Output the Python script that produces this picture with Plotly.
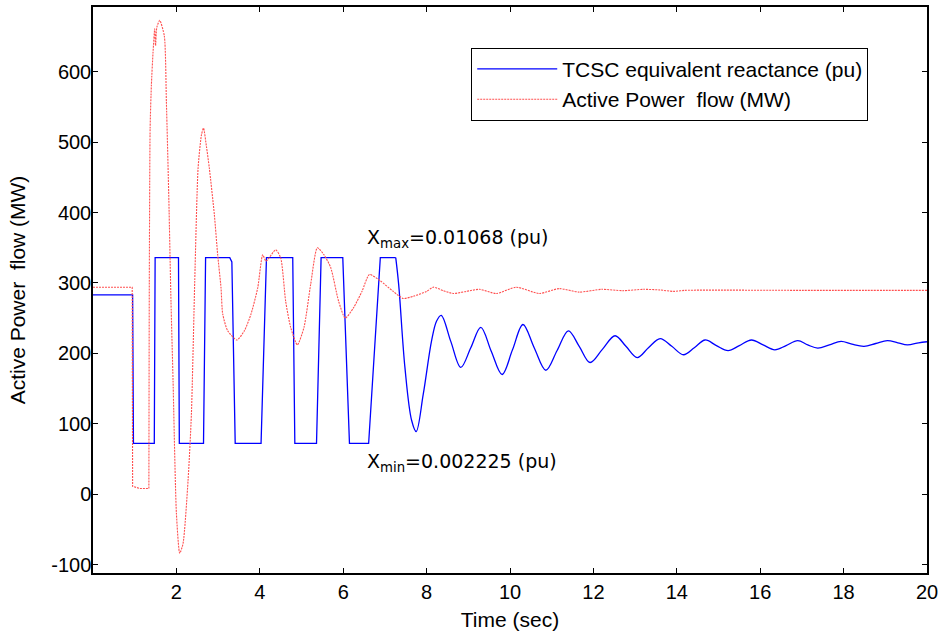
import plotly.graph_objects as go

# ---- data ----
# TCSC equivalent reactance (scaled to MW axis) - switching part
t_x_sw = [0, 0.95, 0.97, 1.47, 1.49, 2.05, 2.07, 2.65, 2.70, 3.28, 3.33, 3.41,
          4.03, 4.16, 4.79, 4.84, 5.36, 5.47, 5.99, 6.15, 6.61, 6.89, 7.26]
x_sw = [283, 283, 72, 72, 336, 336, 72, 72, 336, 336, 330, 72,
        72, 336, 336, 72, 72, 336, 336, 72, 72, 336, 336]
# TCSC equivalent reactance - damped oscillation part
t_x_osc = [7.26, 7.33, 7.48, 7.64, 7.75, 7.92, 8.12, 8.24, 8.35, 8.58, 8.82, 9.06, 9.30,
           9.55, 9.81, 10.06, 10.31, 10.58, 10.86, 11.13, 11.40, 11.66, 11.92,
           12.22, 12.52, 12.78, 13.05, 13.32, 13.60, 13.88, 14.16, 14.42, 14.68,
           14.95, 15.23, 15.50, 15.79, 16.07, 16.35, 16.62, 16.90, 17.14, 17.38,
           17.66, 17.94, 18.20, 18.49, 18.77, 19.05, 19.30, 19.53, 19.80, 20.0]
x_osc = [336, 298, 180, 105, 89, 142, 218, 246, 254, 217, 180, 208, 237,
         203, 170, 205, 241, 208, 176, 204, 232, 210, 187,
         206, 225, 210, 194, 208, 221, 210, 198, 208, 219,
         211, 204, 211, 219, 212, 205, 211, 218, 212, 207.5,
         212, 217, 213, 210, 214, 218, 215, 212, 215, 216.5]

# Active power flow (MW) - step part
t_p_step = [0, 0.94, 0.95, 1.13, 1.34]
p_step = [294, 294, 11, 8, 8]
# Active power flow - oscillation part
t_p_osc = [1.34, 1.35, 1.37, 1.40, 1.44, 1.48, 1.50, 1.53, 1.60, 1.71, 1.76, 1.82,
           1.87, 1.92, 2.00, 2.08, 2.16, 2.28, 2.36, 2.44, 2.52, 2.60, 2.65, 2.72,
           2.79, 2.91, 2.99, 3.07, 3.11, 3.23, 3.45, 3.63, 3.79, 3.95, 4.07, 4.15,
           4.38, 4.50, 4.62, 4.74, 4.90, 5.06, 5.22, 5.38, 5.54, 5.70, 5.89, 6.05,
           6.25, 6.45, 6.63, 6.89, 7.20, 7.44, 7.68, 8.00, 8.16, 8.40, 8.64, 8.95,
           9.27, 9.67, 10.15, 10.70, 11.18, 11.66, 12.20, 12.70, 13.20, 13.60,
           13.92, 14.20, 17.0, 20.0]
p_osc = [8, 300, 520, 581, 628, 661, 637, 663, 673, 651, 557, 416,
         274, 161, -27, -84, -70, 20, 114, 303, 463, 510, 520, 494,
         463, 397, 340, 293, 256, 232, 219, 232, 256, 293, 340, 331,
         347, 336, 274, 237, 212, 237, 298, 350, 340, 322, 274, 250,
         265, 288, 312, 303, 288, 278, 281, 288, 294, 289, 285, 288,
         291, 285, 294, 285, 292, 287, 291, 289, 291, 290,
         288, 289.5, 289.5, 289.5]

x_ticks = [2, 4, 6, 8, 10, 12, 14, 16, 18, 20]
y_ticks = [-100, 0, 100, 200, 300, 400, 500, 600]

BLUE = "rgb(0,0,255)"
RED = "rgb(255,80,80)"
RED_DASH = "2px,1px"

fig = go.Figure()
fig.add_trace(go.Scatter(x=t_x_sw, y=x_sw, mode="lines", name="TCSC equivalent reactance (pu)",
                         line=dict(color=BLUE, width=1.3), legendgroup="x"))
fig.add_trace(go.Scatter(x=t_x_osc, y=x_osc, mode="lines", showlegend=False,
                         line=dict(color=BLUE, width=1.3, shape="spline", smoothing=1.0),
                         legendgroup="x"))
fig.add_trace(go.Scatter(x=t_p_step, y=p_step, mode="lines", name="Active Power  flow (MW)",
                         line=dict(color=RED, width=1.1, dash=RED_DASH), legendgroup="p"))
fig.add_trace(go.Scatter(x=t_p_osc, y=p_osc, mode="lines", showlegend=False,
                         line=dict(color=RED, width=1.1, dash=RED_DASH, shape="spline", smoothing=0.6),
                         legendgroup="p"))

fig.add_annotation(x=6.53, y=363, xref="x", yref="y", xanchor="left", yanchor="middle",
                   text="X<sub>max</sub>=0.01068 (pu)", showarrow=False,
                   font=dict(family="DejaVu Sans", size=19, color="black"))
fig.add_annotation(x=6.53, y=45, xref="x", yref="y", xanchor="left", yanchor="middle",
                   text="X<sub>min</sub>=0.002225 (pu)", showarrow=False,
                   font=dict(family="DejaVu Sans", size=19, color="black"))

axis_common = dict(showgrid=False, zeroline=False, showline=True, linecolor="black",
                   linewidth=1.5, mirror="ticks", ticks="inside", ticklen=5,
                   tickcolor="black", tickwidth=1,
                   tickfont=dict(family="Liberation Sans", size=20, color="black"))

fig.update_xaxes(range=[0, 20], tickvals=x_ticks, ticktext=[str(v) for v in x_ticks],
                 title=dict(text="Time (sec)", font=dict(family="Liberation Sans", size=21, color="black"),
                            standoff=11),
                 **axis_common)
fig.update_yaxes(range=[-112, 692], tickvals=y_ticks, ticktext=[str(v) for v in y_ticks],
                 ticklabelstandoff=-4,
                 title=dict(text="Active Power  flow (MW)", font=dict(family="Liberation Sans", size=21, color="black"),
                            standoff=20),
                 **axis_common)

fig.update_layout(
    width=943, height=634,
    margin=dict(l=93, r=12, t=5, b=61),
    plot_bgcolor="white", paper_bgcolor="white",
    legend=dict(x=0.4535, y=0.928, xanchor="left", yanchor="top",
                bgcolor="white", bordercolor="black", borderwidth=1,
                font=dict(family="Liberation Sans", size=21, color="black"),
                itemwidth=80, tracegroupgap=0, traceorder="normal"),
)

fig.write_html("out.html")
